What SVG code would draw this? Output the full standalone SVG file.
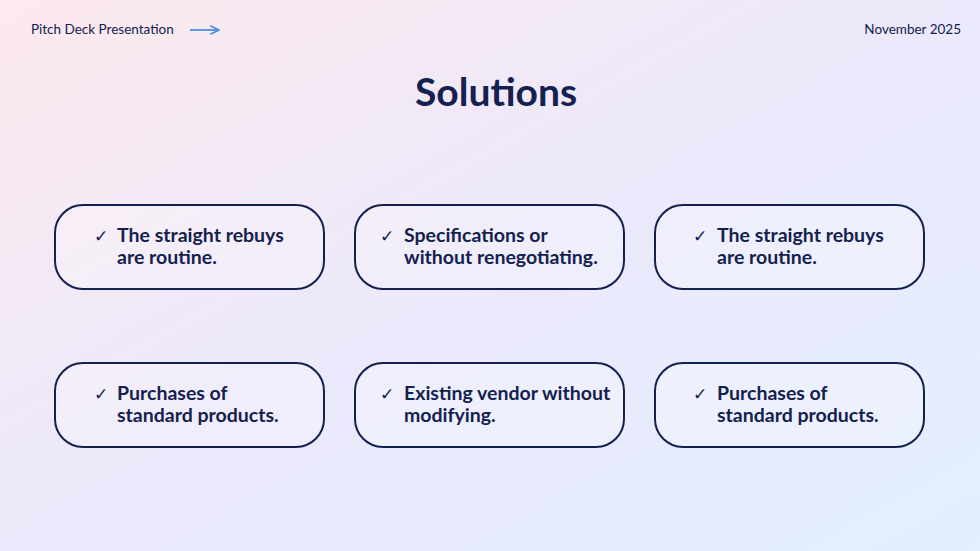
<svg xmlns="http://www.w3.org/2000/svg" width="980" height="551" viewBox="0 0 980 551">
<defs>
<linearGradient id="bg" x1="0" y1="0" x2="1" y2="1">
<stop offset="0" stop-color="#fde9ee"/><stop offset="0.5" stop-color="#ebe9fb"/><stop offset="1" stop-color="#e3effd"/>
</linearGradient>
<marker id="ah" viewBox="0 0 10 10" refX="9" refY="5" markerWidth="6" markerHeight="6" orient="auto"><path d="M1,1 L9,5 L1,9" fill="none" stroke="#4a90e2" stroke-width="1.5"/></marker>
</defs>
<style>
.box{fill:rgba(255,255,255,0.25);stroke:#14214f;stroke-width:2}
.t{font-family:Lato,"Open Sans",sans-serif;font-weight:bold;font-size:19.5px;fill:#14214f}
.c{font-family:"DejaVu Sans",sans-serif;font-size:17px;fill:#14214f}
.s{font-family:Lato,"Open Sans",sans-serif;font-size:13.5px;fill:#14214f}
</style>
<rect width="980" height="551" fill="url(#bg)"/>
<text class="s" x="31" y="34">Pitch Deck Presentation</text>
<g id="connectors"><line x1="190" y1="30" x2="219" y2="30" stroke="#4a90e2" stroke-width="1.8" marker-end="url(#ah)"/></g>
<text class="s" x="961" y="34" text-anchor="end">November 2025</text>
<text x="496" y="106" text-anchor="middle" font-family="Lato,'Open Sans',sans-serif" font-weight="bold" font-size="39" fill="#14214f">Solutions</text>
<g id="n1"><rect class="box" x="55" y="205" width="269" height="84" rx="28"/><text class="c" x="94" y="242">✓</text><text class="t" x="117" y="242">The straight rebuys</text><text class="t" x="117" y="264">are routine.</text></g>
<g id="n2"><rect class="box" x="355" y="205" width="269" height="84" rx="28"/><text class="c" x="380" y="242">✓</text><text class="t" x="404" y="242">Specifications or</text><text class="t" x="404" y="264">without renegotiating.</text></g>
<g id="n3"><rect class="box" x="655" y="205" width="269" height="84" rx="28"/><text class="c" x="693" y="242">✓</text><text class="t" x="717" y="242">The straight rebuys</text><text class="t" x="717" y="264">are routine.</text></g>
<g id="n4"><rect class="box" x="55" y="363" width="269" height="84" rx="28"/><text class="c" x="94" y="400">✓</text><text class="t" x="117" y="400">Purchases of</text><text class="t" x="117" y="422">standard products.</text></g>
<g id="n5"><rect class="box" x="355" y="363" width="269" height="84" rx="28"/><text class="c" x="380" y="400">✓</text><text class="t" x="404" y="400">Existing vendor without</text><text class="t" x="404" y="422">modifying.</text></g>
<g id="n6"><rect class="box" x="655" y="363" width="269" height="84" rx="28"/><text class="c" x="693" y="400">✓</text><text class="t" x="717" y="400">Purchases of</text><text class="t" x="717" y="422">standard products.</text></g>
</svg>
